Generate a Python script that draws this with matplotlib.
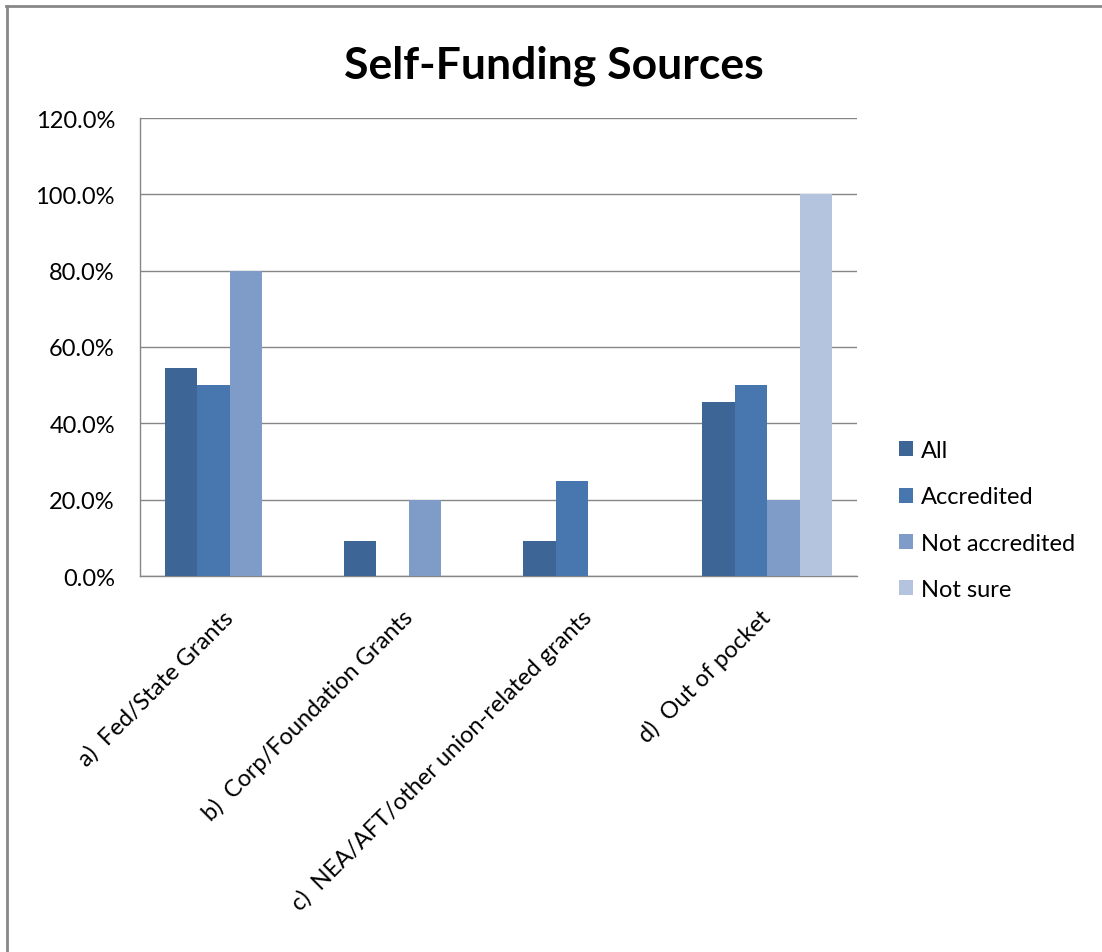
import numpy as np
import matplotlib
matplotlib.use('Agg')
import matplotlib.pyplot as plt
from matplotlib.lines import Line2D
from matplotlib.ticker import PercentFormatter

plt.rcParams['font.family'] = ['Lato', 'DejaVu Sans']

categories = ['a)  Fed/State Grants', 'b)  Corp/Foundation Grants',
              'c)  NEA/AFT/other union-related grants', 'd)  Out of pocket']
series = ['All', 'Accredited', 'Not accredited', 'Not sure']
all_vals = [54.5, 9.1, 9.1, 45.5]
accredited = [50.0, 0.0, 25.0, 50.0]
not_accredited = [80.0, 20.0, 0.0, 20.0]
not_sure = [0.0, 0.0, 0.0, 100.0]
colors = ['#3d6596', '#4877b0', '#7f9bc7', '#b4c3de']

values = [all_vals, accredited, not_accredited, not_sure]

fig = plt.figure(figsize=(11.02, 9.53), dpi=100)
ax = fig.add_axes([140/1102, 376/953, 717/1102, 458/953])

ind = np.arange(len(categories))
width = 0.181
for i, (name, vals) in enumerate(zip(series, values)):
    ax.bar(ind + (i - 1.5) * width, vals, width, color=colors[i], label=name, zorder=3)

ax.set_xlim(-0.5, len(categories) - 0.5)
ax.set_ylim(0, 120)
ax.set_yticks(np.arange(0, 121, 20))
ax.yaxis.set_major_formatter(PercentFormatter(decimals=1))
ax.grid(True, axis='y', color='#868686', linewidth=1.0, zorder=0)
ax.set_axisbelow(True)
for s in ['top', 'right']:
    ax.spines[s].set_visible(False)
for s in ['left', 'bottom']:
    ax.spines[s].set_color('#868686')
    ax.spines[s].set_linewidth(1.0)

ax.set_xticks(ind)
ax.set_xticklabels(categories, rotation=45, ha='right', va='center',
                   rotation_mode='anchor', fontsize=17)
ax.tick_params(axis='x', length=0, pad=27)
ax.tick_params(axis='y', length=0, pad=18, labelsize=17)

fig.text(0.503, 1 - 66/953, 'Self-Funding Sources', ha='center', va='center',
         fontsize=32, fontweight='bold')

fig.legend(loc='center left', bbox_to_anchor=(899/1102, 1 - 521/953), frameon=False,
           fontsize=17, handlelength=0.6, handleheight=0.6, handletextpad=0.34,
           labelspacing=1.07, borderpad=0, borderaxespad=0)

fig.add_artist(Line2D([6/1102, 1], [1 - 7/953, 1 - 7/953], color='#888888', linewidth=2.0))
fig.add_artist(Line2D([7/1102, 7/1102], [0, 1 - 7/953], color='#888888', linewidth=2.0))

fig.savefig('out.png', dpi=100)
